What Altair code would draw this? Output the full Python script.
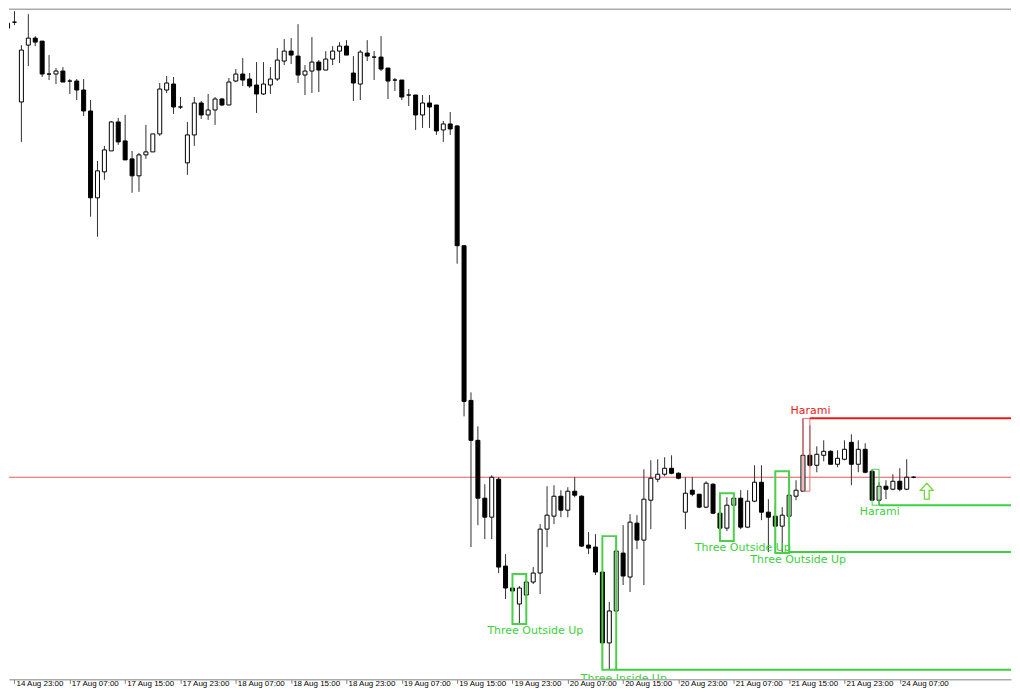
import altair as alt
import pandas as pd

# ---- data (hourly candles) ----
opens = [1.1970, 1.1976, 1.1896, 1.1953, 1.1960, 1.1957, 1.1924, 1.1924, 1.1927, 1.1917,
         1.1917, 1.1908, 1.1887, 1.1800, 1.1826, 1.1847, 1.1876, 1.1857, 1.1839, 1.1822,
         1.1843, 1.1846, 1.1864, 1.1908, 1.1914, 1.1891, 1.1835, 1.1863, 1.1895, 1.1883,
         1.1888, 1.1899, 1.1893, 1.1917, 1.1924, 1.1919, 1.1913, 1.1904, 1.1913, 1.1919,
         1.1937, 1.1947, 1.1942, 1.1923, 1.1927, 1.1936, 1.1928, 1.1939, 1.1947, 1.1952,
         1.1925, 1.1914, 1.1945, 1.1941, 1.1941, 1.1930, 1.1918, 1.1918, 1.1903, 1.1903,
         1.1883, 1.1895, 1.1893, 1.1868, 1.1874, 1.1872, 1.1752, 1.1597, 1.1557, 1.1499,
         1.1480, 1.1518, 1.1431, 1.1409, 1.1393, 1.1402, 1.1415, 1.1424, 1.1468, 1.1481,
         1.1501, 1.1487, 1.1506, 1.1501, 1.1452, 1.1450, 1.1425, 1.1354, 1.1386, 1.1444,
         1.1420, 1.1474, 1.1457, 1.1497, 1.1518, 1.1523, 1.1529, 1.1524, 1.1485, 1.1507,
         1.1503, 1.1490, 1.1513, 1.1484, 1.1469, 1.1492, 1.1499, 1.1470, 1.1496, 1.1515,
         1.1485, 1.1481, 1.1471, 1.1481, 1.1501, 1.1506, 1.1542, 1.1532, 1.1542, 1.1546,
         1.1533, 1.1538, 1.1555, 1.1533, 1.1548, 1.1526, 1.1497, 1.1511, 1.1508, 1.1516,
         1.1508, 1.1520]
highs = [1.1987, 1.1987, 1.1953, 1.1984, 1.1962, 1.1957, 1.1943, 1.1930, 1.1931, 1.1919,
         1.1919, 1.1919, 1.1898, 1.1837, 1.1852, 1.1877, 1.1880, 1.1883, 1.1847, 1.1845,
         1.1873, 1.1864, 1.1915, 1.1922, 1.1921, 1.1901, 1.1876, 1.1901, 1.1897, 1.1904,
         1.1901, 1.1900, 1.1920, 1.1929, 1.1940, 1.1925, 1.1936, 1.1936, 1.1931, 1.1950,
         1.1959, 1.1960, 1.1974, 1.1933, 1.1961, 1.1938, 1.1947, 1.1952, 1.1956, 1.1958,
         1.1942, 1.1948, 1.1958, 1.1947, 1.1962, 1.1930, 1.1920, 1.1918, 1.1909, 1.1903,
         1.1903, 1.1903, 1.1893, 1.1877, 1.1886, 1.1873, 1.1752, 1.1605, 1.1571, 1.1513,
         1.1522, 1.1520, 1.1443, 1.1412, 1.1411, 1.1423, 1.1430, 1.1473, 1.1511, 1.1512,
         1.1507, 1.1510, 1.1520, 1.1502, 1.1465, 1.1463, 1.1425, 1.1395, 1.1461, 1.1472,
         1.1483, 1.1482, 1.1528, 1.1537, 1.1538, 1.1540, 1.1542, 1.1525, 1.1520, 1.1520,
         1.1503, 1.1516, 1.1514, 1.1493, 1.1500, 1.1504, 1.1507, 1.1507, 1.1532, 1.1532,
         1.1498, 1.1492, 1.1490, 1.1526, 1.1517, 1.1579, 1.1572, 1.1551, 1.1557, 1.1547,
         1.1547, 1.1557, 1.1563, 1.1557, 1.1554, 1.1528, 1.1515, 1.1517, 1.1523, 1.1529,
         1.1538, 1.1521]
lows = [1.1967, 1.1973, 1.1856, 1.1932, 1.1952, 1.1921, 1.1918, 1.1914, 1.1916, 1.1904,
        1.1898, 1.1882, 1.1781, 1.1761, 1.1818, 1.1847, 1.1853, 1.1838, 1.1805, 1.1806,
        1.1839, 1.1846, 1.1862, 1.1905, 1.1884, 1.1889, 1.1823, 1.1852, 1.1879, 1.1878,
        1.1873, 1.1892, 1.1893, 1.1916, 1.1912, 1.1910, 1.1885, 1.1903, 1.1904, 1.1917,
        1.1933, 1.1934, 1.1915, 1.1903, 1.1905, 1.1906, 1.1928, 1.1933, 1.1935, 1.1943,
        1.1897, 1.1898, 1.1937, 1.1918, 1.1927, 1.1899, 1.1907, 1.1898, 1.1892, 1.1868,
        1.1870, 1.1870, 1.1863, 1.1856, 1.1863, 1.1734, 1.1581, 1.1450, 1.1472, 1.1458,
        1.1458, 1.1424, 1.1398, 1.1400, 1.1373, 1.1397, 1.1413, 1.1403, 1.1450, 1.1473,
        1.1480, 1.1480, 1.1500, 1.1450, 1.1443, 1.1422, 1.1327, 1.1327, 1.1385, 1.1412,
        1.1405, 1.1448, 1.1412, 1.1468, 1.1515, 1.1521, 1.1523, 1.1518, 1.1468, 1.1501,
        1.1489, 1.1489, 1.1483, 1.1456, 1.1466, 1.1491, 1.1468, 1.1469, 1.1495, 1.1477,
        1.1445, 1.1444, 1.1445, 1.1470, 1.1497, 1.1506, 1.1530, 1.1525, 1.1536, 1.1533,
        1.1530, 1.1537, 1.1512, 1.1525, 1.1524, 1.1497, 1.1492, 1.1498, 1.1507, 1.1506,
        1.1507, 1.1519]
closes = [1.1975, 1.1976, 1.1948, 1.1960, 1.1956, 1.1924, 1.1924, 1.1927, 1.1916, 1.1917,
          1.1908, 1.1887, 1.1800, 1.1827, 1.1848, 1.1876, 1.1856, 1.1838, 1.1822, 1.1843,
          1.1846, 1.1864, 1.1909, 1.1915, 1.1891, 1.1891, 1.1863, 1.1895, 1.1883, 1.1888,
          1.1899, 1.1893, 1.1916, 1.1924, 1.1918, 1.1912, 1.1904, 1.1914, 1.1919, 1.1938,
          1.1947, 1.1943, 1.1923, 1.1927, 1.1936, 1.1928, 1.1939, 1.1947, 1.1952, 1.1943,
          1.1915, 1.1946, 1.1942, 1.1941, 1.1929, 1.1917, 1.1918, 1.1901, 1.1903, 1.1883,
          1.1895, 1.1891, 1.1867, 1.1874, 1.1869, 1.1752, 1.1596, 1.1557, 1.1499, 1.1480,
          1.1520, 1.1430, 1.1409, 1.1406, 1.1409, 1.1415, 1.1424, 1.1468, 1.1482, 1.1501,
          1.1487, 1.1506, 1.1502, 1.1451, 1.1449, 1.1425, 1.1354, 1.1386, 1.1446, 1.1421,
          1.1475, 1.1457, 1.1498, 1.1519, 1.1523, 1.1529, 1.1524, 1.1519, 1.1504, 1.1503,
          1.1490, 1.1514, 1.1484, 1.1469, 1.1492, 1.1499, 1.1470, 1.1496, 1.1515, 1.1485,
          1.1480, 1.1471, 1.1482, 1.1502, 1.1507, 1.1542, 1.1532, 1.1543, 1.1546, 1.1533,
          1.1539, 1.1548, 1.1533, 1.1548, 1.1525, 1.1497, 1.1511, 1.1508, 1.1516, 1.1508,
          1.1520, 1.1520]

tick_bars = [1, 9, 17, 25, 33, 41, 49, 57, 65, 73, 81, 89, 97, 105, 113, 121, 129]
tick_labels = ["14 Aug 23:00", "17 Aug 07:00", "17 Aug 15:00", "17 Aug 23:00",
               "18 Aug 07:00", "18 Aug 15:00", "18 Aug 23:00", "19 Aug 07:00",
               "19 Aug 15:00", "19 Aug 23:00", "20 Aug 07:00", "20 Aug 15:00",
               "20 Aug 23:00", "21 Aug 07:00", "21 Aug 15:00", "21 Aug 23:00",
               "24 Aug 07:00"]

# candlestick patterns found
pat_names = ["Three Outside Up", "Three Inside Up", "Three Outside Up",
             "Three Outside Up", "Harami", "Harami"]
pat_kind = ["bull", "bull", "bull", "bull", "bear", "bull"]
pat_start = [73, 86, 103, 111, 115, 125]
pat_end = [75, 88, 105, 113, 116, 126]
pat_top = [1.1423, 1.1461, 1.1504, 1.1526, 1.1579, 1.1528]
pat_bottom = [1.1373, 1.1327, 1.1456, 1.1444, 1.1506, 1.1492]
pat_level = [None, 1.1327, None, 1.1445, 1.1579, 1.1492]
pat_label_bar = [76.3, 89.1, 106.3, 114.3, 116.1, 126.1]
pat_label_price = [1.1366, 1.1318, 1.1449, 1.1437, 1.1586, 1.1485]

signal_bar = [132.9]
signal_price = [1.1506]

# ---- tables ----
candles = pd.DataFrame({
    "bar": list(range(len(opens))),
    "open": opens, "high": highs, "low": lows, "close": closes,
})
candles["dir"] = ["up" if c >= o else "down" for o, c in zip(opens, closes)]

patterns = pd.DataFrame({
    "name": pat_names, "kind": pat_kind, "start": pat_start, "end": pat_end,
    "top": pat_top, "bottom": pat_bottom, "level": pat_level,
    "lbar": pat_label_bar, "lprice": pat_label_price,
})
levels = patterns.dropna(subset=["level"])
signals = pd.DataFrame({"bar": signal_bar, "price": signal_price})

W, H = 1004, 672
x0 = 1 - 0.5 / 7
xscale = alt.Scale(domain=[x0, x0 + W / 7], nice=False, zero=False)
yscale = alt.Scale(domain=[1.13175, 1.19895], nice=False, zero=False)

label_expr = ""
for b, t in zip(tick_bars, tick_labels):
    label_expr += f"datum.value == {b} ? '{t}' : "
label_expr += "''"

xaxis = alt.Axis(values=tick_bars, labelExpr=label_expr, title=None, grid=False,
                 domainColor="#808080", tickColor="#808080", tickSize=4,
                 labelAlign="left", labelBaseline="middle", labelPadding=0.5,
                 labelOffset=1.5, labelFont="Liberation Sans", labelFontSize=8,
                 labelColor="#000000", labelFlush=False, labelOverlap=False)


def X(field):
    return alt.X(field, type="quantitative", scale=xscale, axis=xaxis)


def Y(field):
    return alt.Y(field, type="quantitative", scale=yscale, axis=None)


rect_color = alt.Scale(domain=["bull", "bear"], range=["#4cd04c", "#f07070"])
line_color = alt.Scale(domain=["bull", "bear"], range=["#3cd03c", "#f01818"])
text_color = alt.Scale(domain=["bull", "bear"], range=["#52d852", "#f02828"])

base_c = alt.Chart(candles)

bid = alt.Chart(candles).mark_rule(color="#e85a5a", strokeWidth=1).encode(
    y=alt.Y("close", type="quantitative", aggregate="max", scale=yscale, axis=None)
).transform_filter(alt.datum.bar == len(opens) - 1)

wicks = base_c.mark_rule(color="#303030", strokeWidth=1, clip=True).encode(
    x=X("bar"), y=Y("high"), y2="low")

bodies = base_c.mark_bar(size=4, stroke="#000000", strokeWidth=1, clip=True).encode(
    x=X("bar"), y=Y("open"), y2="close",
    fill=alt.Fill("dir:N", scale=alt.Scale(domain=["up", "down"],
                                           range=["#ffffff", "#000000"]), legend=None))

base_p = alt.Chart(patterns)
rects = base_p.mark_rect(fillOpacity=0, clip=True).encode(
    x=X("start"), x2="end", y=Y("top"), y2="bottom",
    stroke=alt.Stroke("kind:N", scale=rect_color, legend=None),
    strokeWidth=alt.condition(alt.datum.name == "Harami", alt.value(1), alt.value(2)))

lines = alt.Chart(levels).mark_rule(strokeWidth=2, clip=True).encode(
    x=X("end"), x2=alt.value(W), y=Y("level"),
    color=alt.Color("kind:N", scale=line_color, legend=None))

labels = base_p.mark_text(font="DejaVu Sans", fontSize=11, baseline="middle",
                          align="center", clip=True).encode(
    x=X("lbar"), y=Y("lprice"), text="name:N",
    color=alt.Color("kind:N", scale=text_color, legend=None))

arrow_path = "M-0.3,1 L-0.3,-0.1 L-0.8,-0.1 L0,-1 L0.8,-0.1 L0.3,-0.1 L0.3,1 Z"
arrow = alt.Chart(signals).mark_point(shape=arrow_path, filled=False, size=256,
                                      strokeWidth=1.3, color="#6cd83c",
                                      opacity=1, clip=True).encode(
    x=X("bar"), y=Y("price"))

top_border = alt.Chart(signals).mark_rule(color="#808080", strokeWidth=1).encode(
    y=alt.value(0.5))

chart = alt.layer(bid, wicks, bodies, rects, lines, labels, arrow, top_border).properties(
    width=W, height=H, padding=0, background="#ffffff"
).configure_view(stroke=None)

chart.save("out.html", embed_options={"renderer": "svg", "actions": False})
